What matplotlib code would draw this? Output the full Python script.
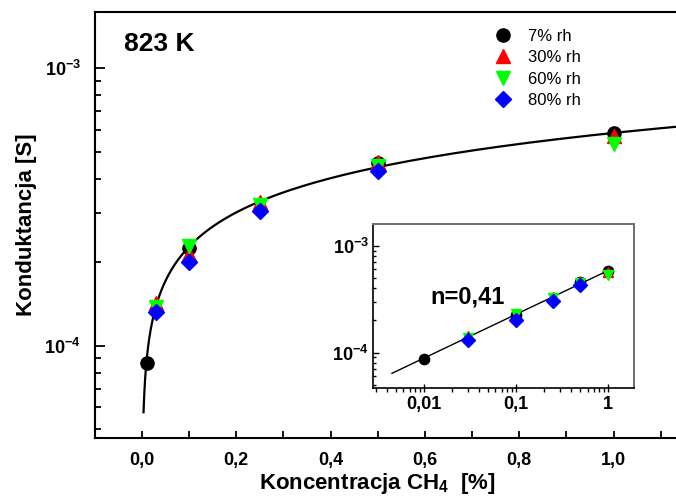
import numpy as np
import matplotlib
matplotlib.use("Agg")
import matplotlib.pyplot as plt
from matplotlib.ticker import (LogLocator, NullFormatter, FuncFormatter,
                               FixedLocator)

plt.rcParams['font.family'] = ['Liberation Sans', 'DejaVu Sans']
plt.rcParams['mathtext.fontset'] = 'custom'
plt.rcParams['mathtext.rm'] = 'Liberation Sans:bold'
plt.rcParams['mathtext.it'] = 'Liberation Sans:bold'
plt.rcParams['mathtext.bf'] = 'Liberation Sans:bold'

# Conductance vs CH4 concentration at 823 K for four humidity levels
x_7 = [0.01, 0.1, 0.5, 1.0]
g_7 = [8.63e-5, 2.26e-4, 4.57e-4, 5.85e-4]
x_30 = [0.03, 0.1, 0.25, 0.5, 1.0]
g_30 = [1.43e-4, 2.15e-4, 3.29e-4, 4.60e-4, 5.68e-4]
x_60 = [0.03, 0.1, 0.25, 0.5, 1.0]
g_60 = [1.38e-4, 2.28e-4, 3.22e-4, 4.45e-4, 5.32e-4]
x_80 = [0.03, 0.1, 0.25, 0.5]
g_80 = [1.32e-4, 2.01e-4, 3.05e-4, 4.27e-4]
labels = ['7% rh', '30% rh', '60% rh', '80% rh']

# power-law fit G = G1 * c**n
n_exp = 0.41
g_at_1 = 5.85e-4

series = [
    (x_7, g_7, 'o', 'black', 9.5),
    (x_30, g_30, '^', 'red', 10),
    (x_60, g_60, 'v', '#00ff00', 10),
    (x_80, g_80, 'D', 'blue', 8.5),
]

W, H = 676, 499
fig = plt.figure(figsize=(W / 100, H / 100), dpi=100)


def fx(px):
    return px / W


def fy(py):
    return 1 - py / H


# main axes (extends past the right edge of the figure)
ax = fig.add_axes([fx(94.7), fy(438), fx(708 - 94.7), (438 - 11.7) / H])
ax.set_yscale('log')
ax.set_xlim(-0.1, 1.2)
ax.set_ylim(4.65e-5, 1.6e-3)

c_main = np.geomspace(0.0035, 1.2, 400)
ax.plot(c_main, g_at_1 * c_main ** n_exp, color='black', lw=1.6, zorder=2)
handles = []
for xs, gs, m, col, ms in series:
    h, = ax.plot(xs, gs, ls='none', marker=m, color=col, ms=ms, mec=col, zorder=3)
    handles.append(h)

ax.spines['right'].set_visible(False)
for s in ('left', 'bottom', 'top'):
    ax.spines[s].set_linewidth(1.5)

ax.xaxis.set_major_locator(FixedLocator([0.0, 0.2, 0.4, 0.6, 0.8, 1.0]))
ax.xaxis.set_minor_locator(FixedLocator([-0.1, 0.1, 0.3, 0.5, 0.7, 0.9, 1.1]))
ax.xaxis.set_major_formatter(FuncFormatter(lambda v, p: f'{abs(v):.1f}'.replace('.', ',')))
ax.yaxis.set_major_locator(LogLocator(base=10))
ax.yaxis.set_minor_locator(LogLocator(base=10, subs=np.arange(2, 10)))
ax.yaxis.set_minor_formatter(NullFormatter())
ax.yaxis.set_major_formatter(FuncFormatter(lambda v, p: f'$10^{{{int(round(np.log10(v)))}}}$'))
ax.tick_params(axis='both', which='both', direction='in', width=1.3)
ax.tick_params(axis='y', which='major', length=7, pad=10, labelsize=13)
ax.tick_params(axis='y', which='minor', length=4.5)
ax.tick_params(axis='x', which='major', length=5, pad=10, labelsize=13)
ax.tick_params(axis='x', which='minor', length=5)
ax.tick_params(top=False, right=False, which='both')
for t in ax.get_xticklabels():
    t.set_fontweight('bold')

ax.set_ylabel('Konduktancja [S]', fontsize=16, fontweight='bold', labelpad=5)
fig.text(fx(377), fy(484), r'Koncentracja CH$_{4}$  [%]', fontsize=16,
         fontweight='bold', ha='center', va='center')
ax.text(fx(124), fy(44), '823 K', transform=fig.transFigure, fontsize=19,
        fontweight='bold', ha='left', va='center')

ax.legend(handles, labels, loc='upper left', bbox_to_anchor=(fx(495), fy(29)),
          bbox_transform=fig.transFigure, frameon=False, fontsize=12,
          handlelength=1.0, handletextpad=1.0, labelspacing=0.38,
          borderpad=0, borderaxespad=0, numpoints=1)

# inset on log-log axes
ins = fig.add_axes([fx(373), fy(388), fx(634 - 373), (388 - 224) / H])
ins.set_xscale('log')
ins.set_yscale('log')
ins.set_xlim(0.0028, 1.92)
ins.set_ylim(4.65e-5, 1.6e-3)
c_ins = np.geomspace(0.0045, 1.12, 200)
ins.plot(c_ins, g_at_1 * c_ins ** n_exp, color='black', lw=1.0, zorder=2)
for xs, gs, m, col, ms in series:
    ins.plot(xs, gs, ls='none', marker=m, color=col, ms=ms * 0.78, mec=col, zorder=3)

for s in ('left', 'bottom'):
    ins.spines[s].set_linewidth(1.2)
for s in ('top', 'right'):
    ins.spines[s].set_linewidth(1.4)
    ins.spines[s].set_color('#6e6e6e')

ins.xaxis.set_major_locator(FixedLocator([0.01, 0.1, 1]))
ins.xaxis.set_minor_locator(LogLocator(base=10, subs=np.arange(2, 10)))
ins.xaxis.set_minor_formatter(NullFormatter())
ins.xaxis.set_major_formatter(FuncFormatter(lambda v, p: {0.01: '0,01', 0.1: '0,1', 1: '1'}.get(round(v, 3), '')))
ins.yaxis.set_major_locator(LogLocator(base=10))
ins.yaxis.set_minor_locator(LogLocator(base=10, subs=np.arange(2, 10)))
ins.yaxis.set_minor_formatter(NullFormatter())
ins.yaxis.set_major_formatter(FuncFormatter(lambda v, p: f'$10^{{{int(round(np.log10(v)))}}}$'))
ins.tick_params(axis='x', which='major', direction='inout', length=6, width=1.0, pad=3, labelsize=13)
ins.tick_params(axis='x', which='minor', direction='out', length=3, width=1.0)
ins.tick_params(axis='y', which='major', direction='in', length=4, width=1.0, pad=3, labelsize=13)
ins.tick_params(axis='y', which='minor', direction='in', length=2.5, width=1.0)
ins.tick_params(top=False, right=False, which='both')
for t in ins.get_xticklabels():
    t.set_fontweight('bold')

ins.text(fx(430), fy(297), 'n=0,41', transform=fig.transFigure, fontsize=17,
         fontweight='bold', ha='left', va='center')

fig.savefig('out.png', dpi=100)
